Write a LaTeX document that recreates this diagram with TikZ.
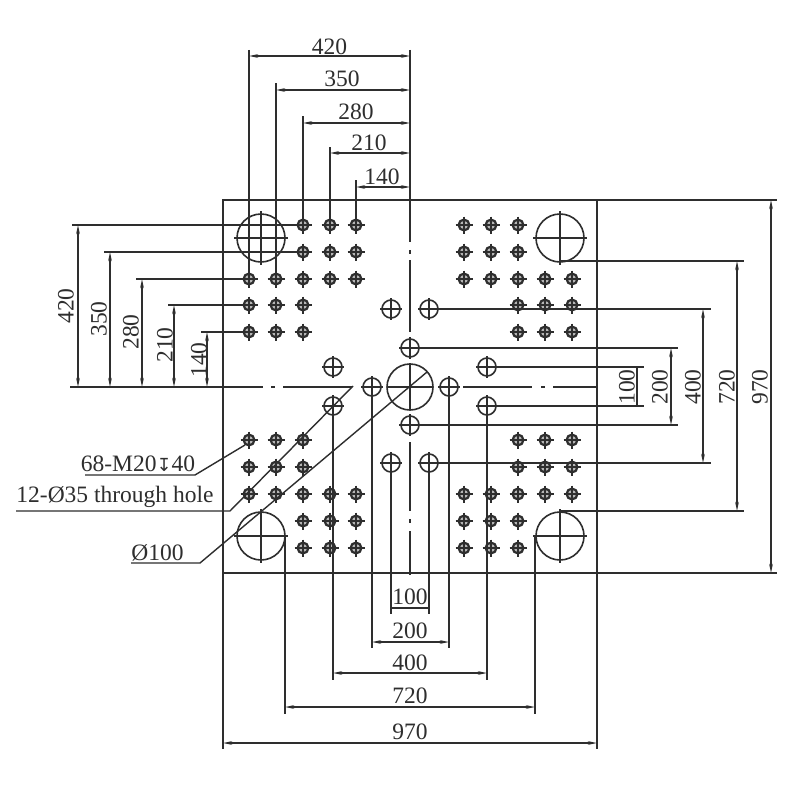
\documentclass[tikz,border=0pt]{standalone}
\usepackage{fontspec}
\setmainfont{Liberation Serif}
\newfontfamily\symfont{DejaVu Sans}
\usetikzlibrary{arrows.meta}
\definecolor{ink}{HTML}{2E2E2E}
\tikzset{
  thin line/.style={draw=ink,line width=1.4pt},
  outline/.style={draw=ink,line width=1.7pt},
  dimline/.style={draw=ink,line width=1.4pt,{Stealth[length=9pt,width=3.6pt]}-{Stealth[length=9pt,width=3.6pt]}},
  label/.style={text=ink,font=\fontsize{23.5}{25}\selectfont,inner sep=0pt},
  labelv/.style={label,rotate=90},
  leader/.style={draw=ink,line width=1.4pt},
}
% holes
\newcommand{\tapped}[2]{%
  \draw[draw=ink,line width=2.2pt,fill=ink!35] (#1,#2) circle[radius=5.4];
  \draw[thin line,line width=1.2pt] (#1-8.5,#2) -- (#1+8.5,#2) (#1,#2-8.5) -- (#1,#2+8.5);
}
\newcommand{\thru}[2]{%
  \draw[thin line,line width=1.6pt] (#1,#2) circle[radius=9];
  \draw[thin line] (#1-11,#2) -- (#1+11,#2) (#1,#2-11) -- (#1,#2+11);
}
\newcommand{\bigh}[2]{%
  \draw[thin line,line width=1.6pt] (#1,#2) circle[radius=24];
  \draw[thin line] (#1-27,#2) -- (#1+27,#2) (#1,#2-27) -- (#1,#2+27);
}
\begin{document}
\begin{tikzpicture}[x=1pt,y=-1pt]
\useasboundingbox[fill=white] (0,0) rectangle (800,800);
% plate
\draw[outline] (223,200) rectangle (597,573);
% centre lines
\draw[thin line] (410,50) -- (410,242) (410,250) -- (410,254) (410,260) -- (410,332);
\draw[thin line] (410,442) -- (410,511) (410,519) -- (410,523) (410,531) -- (410,575);
\draw[thin line] (70,387) -- (263,387) (271,387) -- (275,387) (283,387) -- (352,387);
\draw[thin line] (463,387) -- (532,387) (541,387) -- (545,387) (553,387) -- (598,387);
% tapped holes
\foreach \y in {225,252} {\foreach \x in {303,330,356,464,491,518} {\tapped{\x}{\y}}}
\foreach \x in {249,276,303,330,356,464,491,518,545,572} {\tapped{\x}{279}}
\foreach \y in {305,332} {\foreach \x in {249,276,303,518,545,572} {\tapped{\x}{\y}}}
\foreach \y in {440,467} {\foreach \x in {249,276,303,518,545,572} {\tapped{\x}{\y}}}
\foreach \x in {249,276,303,330,356,464,491,518,545,572} {\tapped{\x}{494}}
\foreach \y in {521,548} {\foreach \x in {303,330,356,464,491,518} {\tapped{\x}{\y}}}
% through holes
\thru{391}{309}\thru{429}{309}
\thru{410}{348}\thru{410}{425}
\thru{333}{367}\thru{487}{367}\thru{333}{406}\thru{487}{406}
\thru{372}{387}\thru{449}{387}
\thru{391}{463}\thru{429}{463}
% large holes
\bigh{261}{238}\bigh{560}{238}\bigh{261}{536}\bigh{560}{536}
\draw[thin line,line width=1.6pt] (410,387) circle[radius=23];
\draw[thin line] (387,387) -- (433,387) (410,363) -- (410,410);
% top dimensions
\draw[thin line] (249,50) -- (249,279) (276,83) -- (276,279) (303,116) -- (303,225) (330,147) -- (330,225) (356,180) -- (356,225);
\draw[dimline] (249,56) -- (410,56);
\draw[dimline] (276,90) -- (410,90);
\draw[dimline] (303,123) -- (410,123);
\draw[dimline] (330,153) -- (410,153);
\draw[dimline] (356,187) -- (410,187);
\node[label] (t420) at (329.5,47) {420};
\node[label] (t350) at (342,79) {350};
\node[label] (t280) at (356,112) {280};
\node[label] (t210) at (369,143) {210};
\node[label] (t140) at (382,177) {140};
% left dimensions
\draw[thin line] (72,225) -- (303,225) (104,252) -- (303,252) (136,279) -- (249,279) (168,305) -- (249,305) (201,332) -- (249,332);
\draw[dimline] (78,225) -- (78,387);
\draw[dimline] (110,252) -- (110,387);
\draw[dimline] (142,279) -- (142,387);
\draw[dimline] (174,305) -- (174,387);
\draw[dimline] (207,332) -- (207,387);
\node[labelv] (l420) at (66,306) {420};
\node[labelv] (l350) at (99,319) {350};
\node[labelv] (l280) at (131,332) {280};
\node[labelv] (l210) at (165,345) {210};
\node[labelv] (l140) at (199,360) {140};
% right dimensions
\draw[thin line] (597,200) -- (777,200) (597,573) -- (777,573) (560,261) -- (744,261) (560,511) -- (744,511) (429,309) -- (711,309) (429,463) -- (711,463) (410,348) -- (678,348) (410,425) -- (678,425) (487,367) -- (644,367) (487,406) -- (644,406);
\draw[dimline] (771,200) -- (771,573);
\draw[dimline] (737,261) -- (737,511);
\draw[dimline] (703,309) -- (703,463);
\draw[dimline] (671,348) -- (671,425);
\draw[thin line] (637,367) -- (637,406);
\node[labelv] (r970) at (760,387) {970};
\node[labelv] (r720) at (727,387) {720};
\node[labelv] (r400) at (693,387) {400};
\node[labelv] (r200) at (660,387) {200};
\node[labelv] (r100) at (627,387) {100};
% bottom dimensions
\draw[thin line] (223,573) -- (223,749) (597,573) -- (597,749) (285,536) -- (285,714) (535,536) -- (535,714) (333,406) -- (333,680) (487,406) -- (487,680) (372,387) -- (372,648) (449,387) -- (449,648) (391,463) -- (391,614) (429,463) -- (429,614);
\draw[dimline] (223,743) -- (597,743);
\draw[dimline] (285,707) -- (535,707);
\draw[dimline] (333,673) -- (487,673);
\draw[dimline] (372,642) -- (449,642);
\draw[thin line] (391,608) -- (429,608);
\node[label] (b100) at (410,597) {100};
\node[label] (b200) at (410,631) {200};
\node[label] (b400) at (410,663) {400};
\node[label] (b720) at (410,696) {720};
\node[label] (b970) at (410,732) {970};
% leaders
\node[label] (n68) at (138,464) {68-M20{\symfont\fontsize{18}{18}\selectfont ↧}40};
\node[label] (n12) at (115,497) {12-Ø35 through hole};
\node[label] (n100) at (157.5,552.5) {Ø100};
\draw[leader] (85,475) -- (195,475) -- (245,445);
\draw[leader] (16,511) -- (230,511) -- (353,386);
\draw[leader] (131,563) -- (200,563) -- (427,372);
\end{tikzpicture}
\end{document}
